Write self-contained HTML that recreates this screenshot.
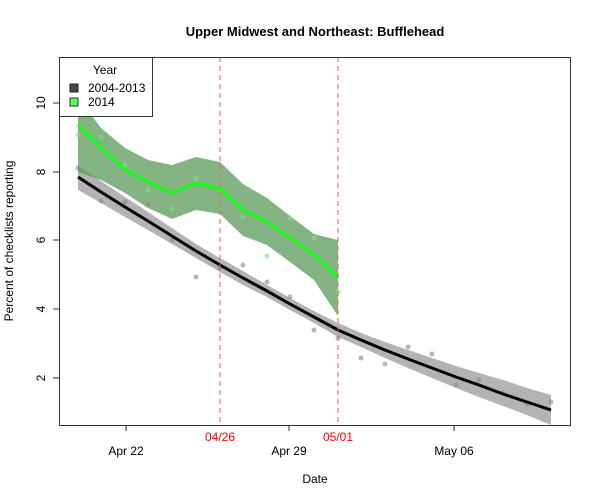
<!DOCTYPE html>
<html><head><meta charset="utf-8"><style>
html,body{margin:0;padding:0;background:#fff}
svg{display:block;font-family:"Liberation Sans",sans-serif}
</style></head><body>
<svg width="600" height="500" viewBox="0 0 600 500">
<rect width="600" height="500" fill="#fff"/>
<text x="315" y="36" font-size="13" font-weight="bold" text-anchor="middle">Upper Midwest and Northeast: Bufflehead</text>
<!-- gray band -->
<polygon fill="#b3b3b3" points="78,165 101,181 125,197 148,212 172,228 196,244 220,258 243,271 267,285 290,298 314,311 338,323 361,333 385,342 408,350 432,358 456,366 479,373 503,380 527,388 551,395 551,425 527,415 503,406 479,397 456,388 432,378 408,368 385,358 361,347 338,337 314,323 290,310 267,297 243,285 220,272 196,258 172,244 148,230 125,217 101,203 78,190"/>
<!-- green band -->
<polygon fill="#5a9a5a" fill-opacity="0.75" points="78,98 101,128 125,148 148,160 172,165 196,157 220,162 243,184 267,198 290,216 314,234 338,240 338,316 314,280 290,262 267,245 243,236 220,214 196,210 172,219 148,208 125,193 101,180 78,172"/>
<!-- gray points -->
<g fill="#888" fill-opacity="0.6">
<circle cx="78" cy="168" r="2.5"/><circle cx="101" cy="201" r="2.5"/><circle cx="125" cy="202" r="2.5"/><circle cx="148" cy="205" r="2.5"/><circle cx="172" cy="240" r="2.5"/><circle cx="196" cy="277" r="2.5"/><circle cx="220" cy="268" r="2.5"/><circle cx="243" cy="265" r="2.5"/><circle cx="267" cy="282" r="2.5"/><circle cx="290" cy="297" r="2.5"/><circle cx="314" cy="330" r="2.5"/><circle cx="338" cy="338" r="2.5"/><circle cx="361" cy="358" r="2.5"/><circle cx="385" cy="364" r="2.5"/><circle cx="408" cy="347" r="2.5"/><circle cx="432" cy="354" r="2.5"/><circle cx="456" cy="385" r="2.5"/><circle cx="479" cy="380" r="2.5"/><circle cx="503" cy="393" r="2.5"/><circle cx="527" cy="404" r="2.5"/><circle cx="551" cy="402" r="2.5"/>
</g>
<g fill="#7fe07f" fill-opacity="0.6">
<circle cx="78" cy="135" r="2.5"/><circle cx="101" cy="137" r="2.5"/><circle cx="125" cy="165" r="2.5"/><circle cx="148" cy="190" r="2.5"/><circle cx="172" cy="209" r="2.5"/><circle cx="196" cy="179" r="2.5"/><circle cx="220" cy="190" r="2.5"/><circle cx="243" cy="217" r="2.5"/><circle cx="267" cy="256" r="2.5"/><circle cx="290" cy="218" r="2.5"/><circle cx="314" cy="238" r="2.5"/><circle cx="338" cy="292" r="2.5"/>
</g>
<!-- black line -->
<polyline fill="none" stroke="#000" stroke-width="3" points="78,177 101,192 125,207 148,221 172,236 196,251 220,265 243,278 267,291 290,304 314,317 338,330 361,340 385,350 408,359 432,368 456,377 479,385 503,394 527,402 551,410"/>
<polyline fill="none" stroke="#1f1" stroke-width="3" points="78,125 101,148 125,170 148,182 172,193 196,183 220,189 243,210 267,222 290,238 314,255 338,278"/>
<!-- red dashed lines -->
<line x1="220" y1="57" x2="220" y2="425" stroke="#f55" stroke-dasharray="5,4"/>
<line x1="338" y1="57" x2="338" y2="425" stroke="#f55" stroke-dasharray="5,4"/>
<!-- plot box -->
<rect x="59.5" y="57.5" width="511" height="368" fill="none" stroke="#333"/>
<!-- legend -->
<rect x="59.5" y="57.5" width="93" height="59" fill="#fff" stroke="#333"/>
<text x="105" y="74" font-size="12" text-anchor="middle">Year</text>
<rect x="70" y="84" width="8" height="8" fill="#444" stroke="#222"/>
<text x="88" y="92" font-size="12">2004-2013</text>
<rect x="70" y="98" width="8" height="8" fill="#5f5" stroke="#333"/>
<text x="88" y="106" font-size="12">2014</text>
<!-- axes ticks -->
<g stroke="#333">
<line x1="53" y1="103" x2="59" y2="103"/><line x1="53" y1="172" x2="59" y2="172"/><line x1="53" y1="240" x2="59" y2="240"/><line x1="53" y1="309" x2="59" y2="309"/><line x1="53" y1="378" x2="59" y2="378"/>
<line x1="126" y1="425" x2="126" y2="431"/><line x1="289" y1="425" x2="289" y2="431"/><line x1="454" y1="425" x2="454" y2="431"/>
</g>
<g font-size="12" text-anchor="middle">
<text transform="translate(45,103) rotate(-90)">10</text>
<text transform="translate(45,172) rotate(-90)">8</text>
<text transform="translate(45,240) rotate(-90)">6</text>
<text transform="translate(45,309) rotate(-90)">4</text>
<text transform="translate(45,378) rotate(-90)">2</text>
<text x="126" y="455">Apr 22</text>
<text x="289" y="455">Apr 29</text>
<text x="454" y="455">May 06</text>
<text x="220" y="441" fill="#f00">04/26</text>
<text x="338" y="441" fill="#f00">05/01</text>
<text x="315" y="483">Date</text>
<text transform="translate(13,241) rotate(-90)">Percent of checklists reporting</text>
</g>
</svg>
</body></html>
